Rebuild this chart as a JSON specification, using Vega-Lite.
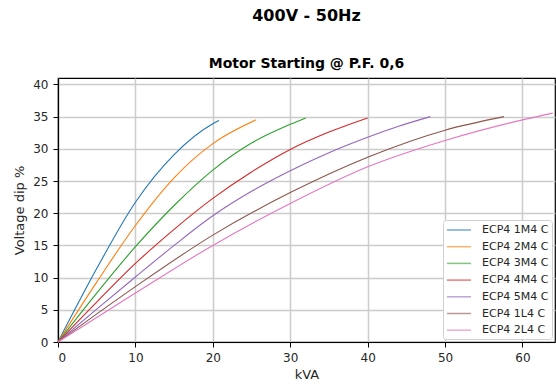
{
  "$schema": "https://vega.github.io/schema/vega-lite/v6.json",
  "width": 497,
  "height": 264,
  "autosize": {"type": "none"},
  "padding": {"left": 58, "top": 78, "right": 1, "bottom": 47},
  "background": "white",
  "title": {
    "text": "400V - 50Hz",
    "subtitle": "Motor Starting @ P.F. 0,6",
    "font": "DejaVu Sans",
    "fontSize": 16,
    "fontWeight": "bold",
    "color": "black",
    "subtitleFont": "DejaVu Sans",
    "subtitleFontSize": 14,
    "subtitleFontWeight": "bold",
    "subtitleColor": "black",
    "subtitlePadding": 33,
    "offset": 7,
    "anchor": "middle"
  },
  "data": {
    "values": [
      {"series": "ECP4 1M4 C", "kVA": 0, "dip": 0},
      {"series": "ECP4 1M4 C", "kVA": 5, "dip": 11.4},
      {"series": "ECP4 1M4 C", "kVA": 10, "dip": 21.7},
      {"series": "ECP4 1M4 C", "kVA": 15, "dip": 29.1},
      {"series": "ECP4 1M4 C", "kVA": 20, "dip": 33.9},
      {"series": "ECP4 1M4 C", "kVA": 20.8, "dip": 34.4},
      {"series": "ECP4 2M4 C", "kVA": 0, "dip": 0},
      {"series": "ECP4 2M4 C", "kVA": 5, "dip": 9.3},
      {"series": "ECP4 2M4 C", "kVA": 10, "dip": 18.1},
      {"series": "ECP4 2M4 C", "kVA": 15, "dip": 25.5},
      {"series": "ECP4 2M4 C", "kVA": 20, "dip": 30.8},
      {"series": "ECP4 2M4 C", "kVA": 25.6, "dip": 34.5},
      {"series": "ECP4 3M4 C", "kVA": 0, "dip": 0},
      {"series": "ECP4 3M4 C", "kVA": 5, "dip": 7.6},
      {"series": "ECP4 3M4 C", "kVA": 10, "dip": 14.8},
      {"series": "ECP4 3M4 C", "kVA": 15, "dip": 21.2},
      {"series": "ECP4 3M4 C", "kVA": 20, "dip": 26.7},
      {"series": "ECP4 3M4 C", "kVA": 25, "dip": 30.9},
      {"series": "ECP4 3M4 C", "kVA": 30, "dip": 33.8},
      {"series": "ECP4 3M4 C", "kVA": 32, "dip": 34.8},
      {"series": "ECP4 4M4 C", "kVA": 0, "dip": 0},
      {"series": "ECP4 4M4 C", "kVA": 5, "dip": 6.2},
      {"series": "ECP4 4M4 C", "kVA": 10, "dip": 12.2},
      {"series": "ECP4 4M4 C", "kVA": 15, "dip": 17.5},
      {"series": "ECP4 4M4 C", "kVA": 20, "dip": 22.3},
      {"series": "ECP4 4M4 C", "kVA": 25, "dip": 26.4},
      {"series": "ECP4 4M4 C", "kVA": 30, "dip": 29.9},
      {"series": "ECP4 4M4 C", "kVA": 35, "dip": 32.6},
      {"series": "ECP4 4M4 C", "kVA": 40, "dip": 34.8},
      {"series": "ECP4 5M4 C", "kVA": 0, "dip": 0},
      {"series": "ECP4 5M4 C", "kVA": 5, "dip": 5.1},
      {"series": "ECP4 5M4 C", "kVA": 10, "dip": 10.1},
      {"series": "ECP4 5M4 C", "kVA": 15, "dip": 15.0},
      {"series": "ECP4 5M4 C", "kVA": 20, "dip": 19.6},
      {"series": "ECP4 5M4 C", "kVA": 25, "dip": 23.4},
      {"series": "ECP4 5M4 C", "kVA": 30, "dip": 26.6},
      {"series": "ECP4 5M4 C", "kVA": 35, "dip": 29.4},
      {"series": "ECP4 5M4 C", "kVA": 40, "dip": 31.8},
      {"series": "ECP4 5M4 C", "kVA": 44, "dip": 33.5},
      {"series": "ECP4 5M4 C", "kVA": 48.1, "dip": 35.0},
      {"series": "ECP4 1L4 C", "kVA": 0, "dip": 0},
      {"series": "ECP4 1L4 C", "kVA": 10, "dip": 8.6},
      {"series": "ECP4 1L4 C", "kVA": 20, "dip": 16.6},
      {"series": "ECP4 1L4 C", "kVA": 30, "dip": 23.2},
      {"series": "ECP4 1L4 C", "kVA": 40, "dip": 28.7},
      {"series": "ECP4 1L4 C", "kVA": 50, "dip": 32.9},
      {"series": "ECP4 1L4 C", "kVA": 57.6, "dip": 35.0},
      {"series": "ECP4 2L4 C", "kVA": 0, "dip": 0},
      {"series": "ECP4 2L4 C", "kVA": 10, "dip": 7.6},
      {"series": "ECP4 2L4 C", "kVA": 20, "dip": 15.0},
      {"series": "ECP4 2L4 C", "kVA": 30, "dip": 21.5},
      {"series": "ECP4 2L4 C", "kVA": 40, "dip": 27.2},
      {"series": "ECP4 2L4 C", "kVA": 50, "dip": 31.3},
      {"series": "ECP4 2L4 C", "kVA": 60, "dip": 34.5},
      {"series": "ECP4 2L4 C", "kVA": 63.9, "dip": 35.55}
    ]
  },
  "mark": {"type": "line", "strokeWidth": 1.1, "interpolate": "monotone"},
  "encoding": {
    "x": {
      "field": "kVA",
      "type": "quantitative",
      "title": "kVA",
      "scale": {"domain": [0, 64.2], "nice": false, "zero": false},
      "axis": {"values": [0, 10, 20, 30, 40, 50, 60]}
    },
    "y": {
      "field": "dip",
      "type": "quantitative",
      "title": "Voltage dip %",
      "scale": {"domain": [0, 41], "nice": false},
      "axis": {"values": [0, 5, 10, 15, 20, 25, 30, 35, 40]}
    },
    "color": {
      "field": "series",
      "type": "nominal",
      "title": null,
      "scale": {
        "domain": ["ECP4 1M4 C", "ECP4 2M4 C", "ECP4 3M4 C", "ECP4 4M4 C", "ECP4 5M4 C", "ECP4 1L4 C", "ECP4 2L4 C"],
        "range": ["#1f77b4", "#ff7f0e", "#2ca02c", "#d62728", "#9467bd", "#8c564b", "#e377c2"]
      },
      "legend": {
        "orient": "bottom-right",
        "offset": 3,
        "symbolType": "M-1,0H3",
        "symbolSize": 144,
        "symbolStrokeWidth": 1.5,
        "symbolOpacity": 0.6,
        "labelOffset": 22,
        "labelFont": "DejaVu Sans",
        "labelFontSize": 11,
        "labelColor": "#262626",
        "rowPadding": 4.7,
        "padding": 3,
        "fillColor": "white",
        "strokeColor": "#d0d0d0",
        "cornerRadius": 3
      }
    }
  },
  "config": {
    "view": {"stroke": "black", "strokeWidth": 1.2},
    "axis": {
      "domainColor": "black",
      "domainWidth": 1.2,
      "tickColor": "black",
      "tickSize": 5,
      "labelFont": "DejaVu Sans",
      "labelFontSize": 12,
      "labelColor": "#262626",
      "labelPadding": 5,
      "titleFont": "DejaVu Sans",
      "titleFontSize": 13,
      "titleFontWeight": "normal",
      "titleColor": "#262626",
      "gridColor": "#cccccc",
      "gridWidth": 1.5
    },
    "axisX": {"titlePadding": 5},
    "axisY": {"titlePadding": 6}
  }
}
